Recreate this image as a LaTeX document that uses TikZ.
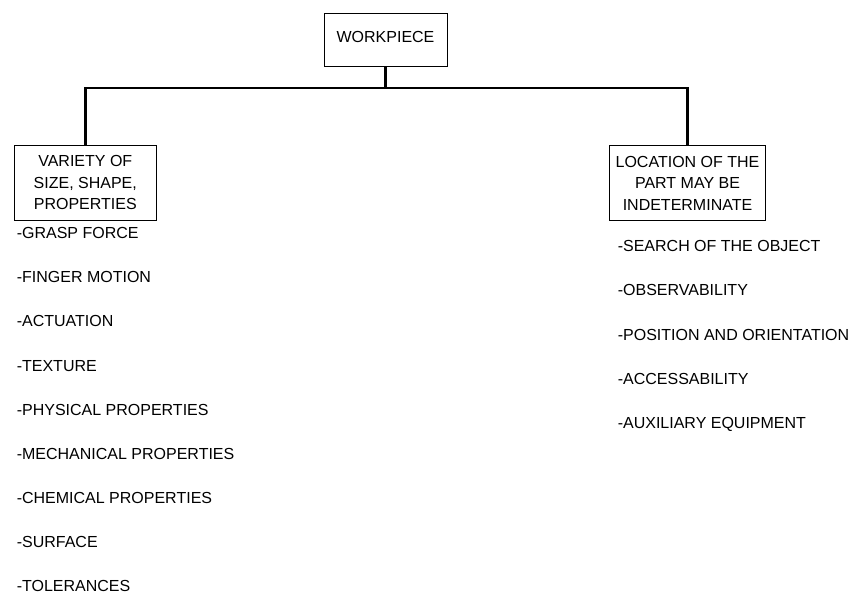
\documentclass[tikz,border=0pt]{standalone}
\usepackage{fontspec}
\setmainfont{Liberation Sans}
\begin{document}
\begin{tikzpicture}[x=1pt,y=-1pt,
  txt/.style={font=\fontsize{16}{21.5}\selectfont, text=black},
  headbox/.style={txt, draw=black, line width=0.9pt, inner sep=0pt, align=center},
  item/.style={txt, anchor=base west, inner sep=0pt},
  link/.style={draw=black, line width=2.5pt, line join=miter}]
\useasboundingbox (0,0) rectangle (856,594);

% top box
\node[headbox, minimum width=123pt, minimum height=53pt, text depth=5pt] (wp) at (385.5,39.5) {WORKPIECE};

% the two branch boxes
\node[headbox, minimum width=141.3pt, minimum height=74.3pt] (var) at (85.3,182.9)
  {VARIETY OF\\SIZE, SHAPE,\\PROPERTIES};
\node[headbox, minimum width=156.4pt, minimum height=75.4pt] (loc) at (687.5,183)
  {LOCATION OF THE\\PART MAY BE\\INDETERMINATE};

% tree connectors
\coordinate (j) at (385.5,88);
\draw[link] (wp.south) -- (j);
\draw[link] (var.north) |- (j) -| (loc.north);

% left list
\foreach \t [count=\i from 0] in {-GRASP FORCE,-FINGER MOTION,-ACTUATION,-TEXTURE,-PHYSICAL PROPERTIES,-MECHANICAL PROPERTIES,-CHEMICAL PROPERTIES,-SURFACE,-TOLERANCES}
  \node[item] (l\i) at (16.6,{238.75+44.1*\i}) {\t};

% right list
\foreach \t [count=\i from 0] in {-SEARCH OF THE OBJECT,-OBSERVABILITY,-POSITION AND ORIENTATION,-ACCESSABILITY,-AUXILIARY EQUIPMENT}
  \node[item] (r\i) at (617.6,{251.75+44.2*\i}) {\t};
\end{tikzpicture}
\end{document}
